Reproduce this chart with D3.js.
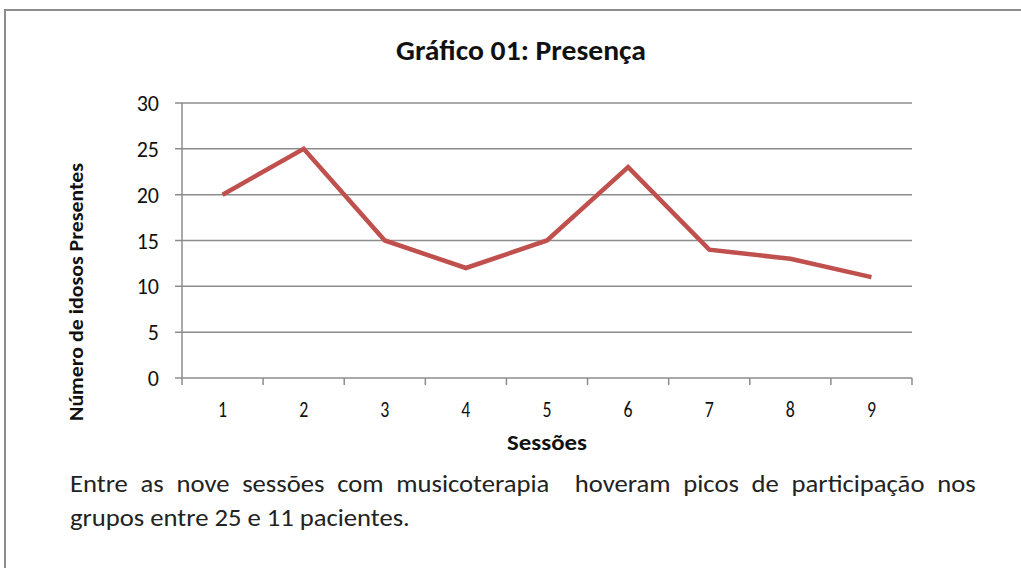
<!DOCTYPE html>
<html>
<head>
<meta charset="utf-8">
<script src="https://cdn.jsdelivr.net/npm/d3@7"></script>
<style>
  body { margin: 0; background: #fff; }
  svg { display: block; }
  text { white-space: pre; }
</style>
</head>
<body>
<svg width="1021" height="568"></svg>
<script>
const sessions = ["1", "2", "3", "4", "5", "6", "7", "8", "9"];
const presentes = [20, 25, 15, 12, 15, 23, 14, 13, 11];
const yTicks = [0, 5, 10, 15, 20, 25, 30];
const captionLines = [
  "Entre as nove sessões com musicoterapia  hoveram picos de participação nos",
  "grupos entre 25 e 11 pacientes."
];

const font = "Carlito, Lato, 'Open Sans', sans-serif";
const svg = d3.select("svg");

// page frame
svg.append("path")
    .attr("d", "M5,568 V10 H1021")
    .attr("fill", "none")
    .attr("stroke", "#8c8c8c")
    .attr("stroke-width", 2);

const plotLeft = 182, plotRight = 912, plotTop = 103, plotBottom = 378;

const x = d3.scaleBand().domain(sessions).range([plotLeft, plotRight]);
const y = d3.scaleLinear().domain([0, 30]).range([plotBottom, plotTop]);

// gridlines + y ticks
svg.append("g")
  .selectAll("line")
  .data(yTicks)
  .join("line")
    .attr("x1", plotLeft - 7)
    .attr("x2", plotRight)
    .attr("y1", d => y(d))
    .attr("y2", d => y(d))
    .attr("stroke", "#8c8c8c")
    .attr("stroke-width", 1.5);

svg.append("line")
    .attr("x1", plotLeft).attr("x2", plotLeft)
    .attr("y1", plotTop).attr("y2", plotBottom)
    .attr("stroke", "#8c8c8c")
    .attr("stroke-width", 1.5);

// x ticks sit on the category boundaries
svg.append("g")
  .selectAll("line")
  .data(d3.range(sessions.length + 1))
  .join("line")
    .attr("x1", i => plotLeft + i * x.step())
    .attr("x2", i => plotLeft + i * x.step())
    .attr("y1", plotBottom)
    .attr("y2", plotBottom + 7)
    .attr("stroke", "#8c8c8c")
    .attr("stroke-width", 1.5);

svg.append("g")
    .attr("font-family", font)
    .attr("font-size", 22)
    .attr("fill", "#111")
    .attr("text-anchor", "end")
  .selectAll("text")
  .data(yTicks)
  .join("text")
    .attr("x", 159)
    .attr("y", d => y(d) + 8)
    .text(d => d);

svg.append("g")
    .attr("font-family", font)
    .attr("font-size", 21)
    .attr("fill", "#111")
    .attr("text-anchor", "middle")
  .selectAll("text")
  .data(sessions)
  .join("text")
    .attr("transform", d => `translate(${x(d) + x.bandwidth() / 2},417) scale(0.85,1.05)`)
    .text(d => d);

// series
svg.append("path")
    .datum(presentes)
    .attr("fill", "none")
    .attr("stroke", "#c0504d")
    .attr("stroke-width", 4.5)
    .attr("stroke-linejoin", "miter")
    .attr("d", d3.line()
        .x((d, i) => x(sessions[i]) + x.bandwidth() / 2)
        .y(d => y(d)));

// titles, squeezed to the reference widths
svg.append("text")
    .attr("x", 396).attr("y", 60)
    .attr("font-family", font)
    .attr("font-size", 29)
    .attr("font-weight", "bold")
    .attr("fill", "#111")
    .attr("textLength", 250)
    .attr("lengthAdjust", "spacingAndGlyphs")
    .text("Gráfico 01: Presença");

svg.append("text")
    .attr("x", 507).attr("y", 450)
    .attr("font-family", font)
    .attr("font-size", 22)
    .attr("font-weight", "bold")
    .attr("fill", "#111")
    .attr("textLength", 80)
    .attr("lengthAdjust", "spacingAndGlyphs")
    .text("Sessões");

svg.append("text")
    .attr("transform", "translate(83,421) rotate(-90)")
    .attr("font-family", font)
    .attr("font-size", 21)
    .attr("font-weight", "bold")
    .attr("fill", "#111")
    .attr("textLength", 258)
    .attr("lengthAdjust", "spacingAndGlyphs")
    .text("Número de idosos Presentes");

// caption: first line justified, second left aligned
const cap = svg.append("g")
    .attr("font-family", font)
    .attr("font-size", 24)
    .attr("fill", "#222");

const line2 = cap.append("text")
    .attr("y", 526)
    .text(captionLines[1]);
const k = 340 / line2.node().getComputedTextLength();
line2.attr("transform", `translate(70,0) scale(${k},1)`);

const line1 = cap.append("text")
    .attr("y", 492)
    .text(captionLines[0]);
const w1 = line1.node().getComputedTextLength();
const gaps = (captionLines[0].match(/ /g) || []).length;
line1.attr("word-spacing", (906 / k - w1) / gaps)
    .attr("transform", `translate(70,0) scale(${k},1)`);
</script>
</body>
</html>
